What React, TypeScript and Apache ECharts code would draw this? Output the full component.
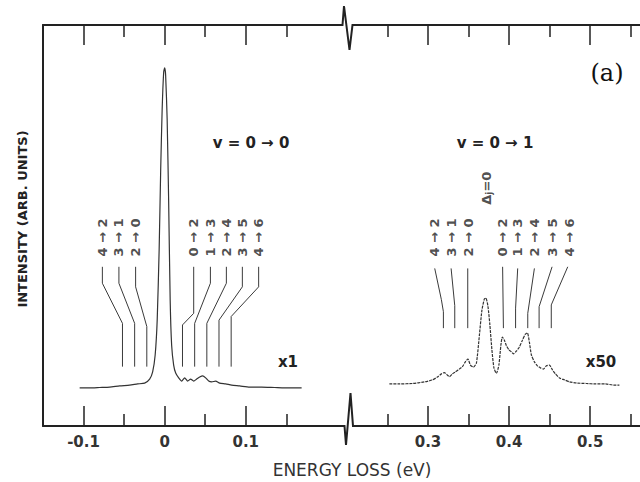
import React, { useEffect, useRef } from "react";
import * as echarts from "echarts";

// ---- data (energy loss in eV, intensity in arbitrary units 0..100) ----
const leftE = [-0.1048, -0.0925, -0.0801, -0.0678, -0.0555, -0.0432, -0.0333, -0.0247, -0.0185, -0.0148, -0.0117, -0.0092, -0.0068, -0.0049, -0.0031, -0.0012, 0, 0.0012, 0.0031, 0.0049, 0.0068, 0.0086, 0.0111, 0.0136, 0.0173, 0.021, 0.0247, 0.0284, 0.032, 0.0358, 0.0395, 0.0432, 0.0469, 0.0506, 0.0543, 0.058, 0.0629, 0.0678, 0.0752, 0.0826, 0.0925, 0.1048, 0.1196, 0.1356, 0.1541, 0.1689];
const leftI = [9.5, 9.5, 9.6, 9.7, 10.0, 10.2, 10.5, 10.7, 11.7, 13.5, 17.7, 26.4, 43.9, 63.8, 78.8, 88.3, 89.3, 87.5, 76.3, 56.4, 31.4, 20.2, 15.2, 13.2, 12.0, 11.2, 12.0, 11.2, 11.7, 11.2, 11.7, 12.2, 12.5, 12.0, 11.2, 11.0, 11.2, 10.7, 10.5, 10.2, 10.0, 9.7, 9.7, 9.6, 9.5, 9.5];

const rightE = [0.2524, 0.2647, 0.2808, 0.2956, 0.3054, 0.3116, 0.3165, 0.3202, 0.3239, 0.3264, 0.3301, 0.3338, 0.3387, 0.3424, 0.3461, 0.3492, 0.3523, 0.356, 0.3597, 0.3634, 0.3665, 0.3695, 0.3714, 0.3739, 0.3763, 0.3788, 0.3813, 0.3843, 0.3874, 0.3899, 0.3917, 0.3942, 0.3967, 0.3998, 0.4028, 0.4053, 0.409, 0.4127, 0.4164, 0.4201, 0.4226, 0.425, 0.4275, 0.4312, 0.4349, 0.4386, 0.4423, 0.446, 0.4497, 0.4534, 0.4571, 0.462, 0.4682, 0.4744, 0.4842, 0.4953, 0.5064, 0.5187, 0.5286, 0.536];
const rightI = [10.5, 10.5, 10.6, 11.0, 11.5, 12.2, 13.0, 13.3, 12.7, 12.3, 13.0, 13.5, 14.2, 14.8, 16.0, 16.7, 15.2, 14.7, 15.7, 22.7, 28.9, 31.7, 31.9, 29.9, 25.2, 19.0, 14.5, 13.1, 15.2, 20.2, 22.2, 21.4, 20.0, 19.0, 18.5, 18.0, 18.7, 19.7, 21.4, 22.9, 23.2, 20.9, 17.7, 16.0, 15.0, 14.5, 14.2, 15.0, 15.2, 14.0, 13.0, 12.0, 11.5, 11.0, 10.7, 10.6, 10.5, 10.5, 10.2, 10.2];

// rotational transition labels
const transLabels = ["4 → 2", "3 → 1", "2 → 0", "0 → 2", "1 → 3", "2 → 4", "3 → 5", "4 → 6"];
const leftLabelE = [-0.0768, -0.0564, -0.0358, 0.0358, 0.0564, 0.0761, 0.0958, 0.1159];
const rightLabelE = [0.3075, 0.3285, 0.3495, 0.3917, 0.4106, 0.4312, 0.453, 0.4745];
const labelI = 47.0;
const deltaJLabel = { e: 0.3716, i: 59.3 };

// fan lines connecting labels to transitions [E, I]
const leftFan = [
  [[-0.0768, 39.7], [-0.0768, 35.6], [-0.052, 25.6], [-0.052, 14.8]],
  [[-0.0564, 39.7], [-0.0564, 35.6], [-0.037, 25.6], [-0.037, 14.8]],
  [[-0.0358, 39.7], [-0.0358, 34.7], [-0.022, 24.8], [-0.022, 14.8]],
  [[0.0358, 39.7], [0.0358, 28.1], [0.022, 25.2], [0.022, 14.8]],
  [[0.0564, 39.7], [0.0564, 35.6], [0.037, 25.6], [0.037, 14.8]],
  [[0.0761, 39.7], [0.0761, 35.6], [0.052, 25.6], [0.052, 14.8]],
  [[0.0958, 39.7], [0.0958, 34.7], [0.067, 26.4], [0.067, 14.8]],
  [[0.1159, 39.7], [0.1159, 34.7], [0.082, 27.3], [0.082, 14.8]],
];
const rightFan = [
  [[0.3083, 39.3], [0.3165, 31.5], [0.319, 28.5], [0.319, 24.4]],
  [[0.3285, 39.3], [0.333, 30.0], [0.333, 24.4]],
  [[0.349, 39.3], [0.349, 24.4]],
  [[0.392, 39.7], [0.393, 24.4]],
  [[0.4106, 39.3], [0.408, 29.4], [0.408, 24.4]],
  [[0.4312, 39.3], [0.423, 28.1], [0.423, 24.4]],
  [[0.453, 39.7], [0.437, 29.75], [0.437, 24.4]],
  [[0.4723, 39.7], [0.452, 30.2], [0.452, 24.4]],
];

// axis ticks
const leftMajor = [-0.1, 0, 0.1];
const leftMinor = [-0.05, 0.05, 0.15];
const rightMajor = [0.3, 0.4, 0.5];
const rightMinor = [0.25, 0.35, 0.45, 0.55];
const leftRange = [-0.15, 0.2125];
const rightRange = [0.21, 0.5614];

const INK = "#222";
const FONT = "DejaVu Sans";

function makeX(gridIndex: number, range: number[], ticks: number[], pos: "top" | "bottom", major: boolean) {
  return {
    type: "value",
    gridIndex,
    position: pos,
    min: range[0],
    max: range[1],
    splitLine: { show: false },
    axisLine: { show: major, onZero: false, lineStyle: { color: INK, width: 2 } },
    axisTick: {
      show: true,
      inside: true,
      length: major ? 20 : 12,
      customValues: ticks,
      lineStyle: { color: INK, width: 1.5 },
    },
    axisLabel: {
      show: major && pos === "bottom",
      customValues: ticks,
      margin: 8,
      color: "#333",
      fontFamily: FONT,
      fontWeight: "bold",
      fontSize: 15,
    },
  };
}

export default function App() {
  const ref = useRef<HTMLDivElement>(null);
  useEffect(() => {
    if (!ref.current) return;
    const chart = echarts.init(ref.current, null, { renderer: "svg" });

    const lineStyle = { color: "#3a3a3a", width: 1 };
    const series: any[] = [
      {
        type: "line",
        xAxisIndex: 0,
        yAxisIndex: 0,
        data: leftE.map((e, i) => [e, leftI[i]]),
        showSymbol: false,
        smooth: 0.2,
        lineStyle: { color: "#333", width: 1.2 },
      },
      {
        type: "line",
        xAxisIndex: 4,
        yAxisIndex: 1,
        data: rightE.map((e, i) => [e, rightI[i]]),
        showSymbol: false,
        smooth: 0.2,
        lineStyle: { color: "#333", width: 1.2, type: [3, 1] },
      },
    ];
    leftFan.forEach((pts) =>
      series.push({ type: "line", xAxisIndex: 0, yAxisIndex: 0, data: pts, showSymbol: false, lineStyle })
    );
    rightFan.forEach((pts) =>
      series.push({ type: "line", xAxisIndex: 4, yAxisIndex: 1, data: pts, showSymbol: false, lineStyle })
    );
    const labelStyle = {
      show: true,
      position: "inside",
      rotate: 90,
      fontFamily: FONT,
      fontWeight: "bold",
      fontSize: 13,
      color: "#222",
      formatter: (p: any) => p.data[2],
    };
    series.push({
      type: "scatter",
      xAxisIndex: 0,
      yAxisIndex: 0,
      symbolSize: 0,
      data: leftLabelE.map((e, i) => [e, labelI, transLabels[i]]),
      label: labelStyle,
      silent: true,
    });
    series.push({
      type: "scatter",
      xAxisIndex: 4,
      yAxisIndex: 1,
      symbolSize: 0,
      data: rightLabelE.map((e, i) => [e, labelI, transLabels[i]]),
      label: labelStyle,
      silent: true,
    });
    series.push({
      type: "scatter",
      xAxisIndex: 4,
      yAxisIndex: 1,
      symbolSize: 0,
      data: [[deltaJLabel.e, deltaJLabel.i]],
      label: {
        show: true,
        position: "inside",
        rotate: 90,
        formatter: "{a|Δ}{s|j}{a|=0}",
        rich: {
          a: { fontFamily: FONT, fontWeight: "bold", fontSize: 13, color: "#222" },
          s: { fontFamily: FONT, fontWeight: "bold", fontSize: 9, color: "#222", padding: [6, 0, 0, 0] },
        },
      },
      silent: true,
    });

    const txt = (x: number, y: number, text: string, style: any, rotation = 0) => ({
      type: "text",
      x,
      y,
      rotation,
      style: { text, align: "center", verticalAlign: "middle", fill: "#222", ...style },
    });

    chart.setOption({
      animation: false,
      backgroundColor: "#fff",
      grid: [
        { left: 43, top: 25, width: 294, height: 401 },
        { left: 355, top: 25, width: 285, height: 401 },
      ],
      xAxis: [
        makeX(0, leftRange, leftMajor, "bottom", true),
        makeX(0, leftRange, leftMinor, "bottom", false),
        makeX(0, leftRange, leftMajor, "top", true),
        makeX(0, leftRange, leftMinor, "top", false),
        makeX(1, rightRange, rightMajor, "bottom", true),
        makeX(1, rightRange, rightMinor, "bottom", false),
        makeX(1, rightRange, rightMajor, "top", true),
        makeX(1, rightRange, rightMinor, "top", false),
      ],
      yAxis: [
        {
          type: "value",
          gridIndex: 0,
          min: 0,
          max: 100,
          axisLine: { show: true, onZero: false, lineStyle: { color: INK, width: 2 } },
          axisTick: { show: false },
          axisLabel: { show: false },
          splitLine: { show: false },
        },
        {
          type: "value",
          gridIndex: 1,
          min: 0,
          max: 100,
          axisLine: { show: false },
          axisTick: { show: false },
          axisLabel: { show: false },
          splitLine: { show: false },
        },
      ],
      series,
      graphic: [
        {
          type: "polyline",
          shape: { points: [[336, 25], [342.5, 25], [344, 6], [349.5, 50], [352.5, 25], [356, 25]] },
          style: { stroke: INK, lineWidth: 2, fill: null },
        },
        {
          type: "polyline",
          shape: { points: [[336, 426], [344.5, 426], [346, 445], [350.5, 393], [353, 426], [356, 426]] },
          style: { stroke: INK, lineWidth: 2, fill: null },
        },
        txt(22, 219, "INTENSITY (ARB. UNITS)", { font: `bold 13px "${FONT}"` }, Math.PI / 2),
        txt(352, 470, "ENERGY LOSS (eV)", { font: `17px "${FONT}"`, fill: "#333" }),
        txt(251, 143, "v = 0 → 0", { font: `bold 15px "${FONT}"` }),
        txt(495, 143, "v = 0 → 1", { font: `bold 15px "${FONT}"` }),
        txt(288, 362, "x1", { font: `bold 15px "${FONT}"` }),
        txt(601, 362, "x50", { font: `bold 15px "${FONT}"` }),
        txt(607, 73, "(a)", { font: `24px "DejaVu Serif"`, fill: "#111" }),
      ],
    });
    return () => chart.dispose();
  }, []);
  return (
    <div
      ref={ref}
      style={{ position: "fixed", left: 0, top: 0, width: 640, height: 482, background: "#fff" }}
    />
  );
}
